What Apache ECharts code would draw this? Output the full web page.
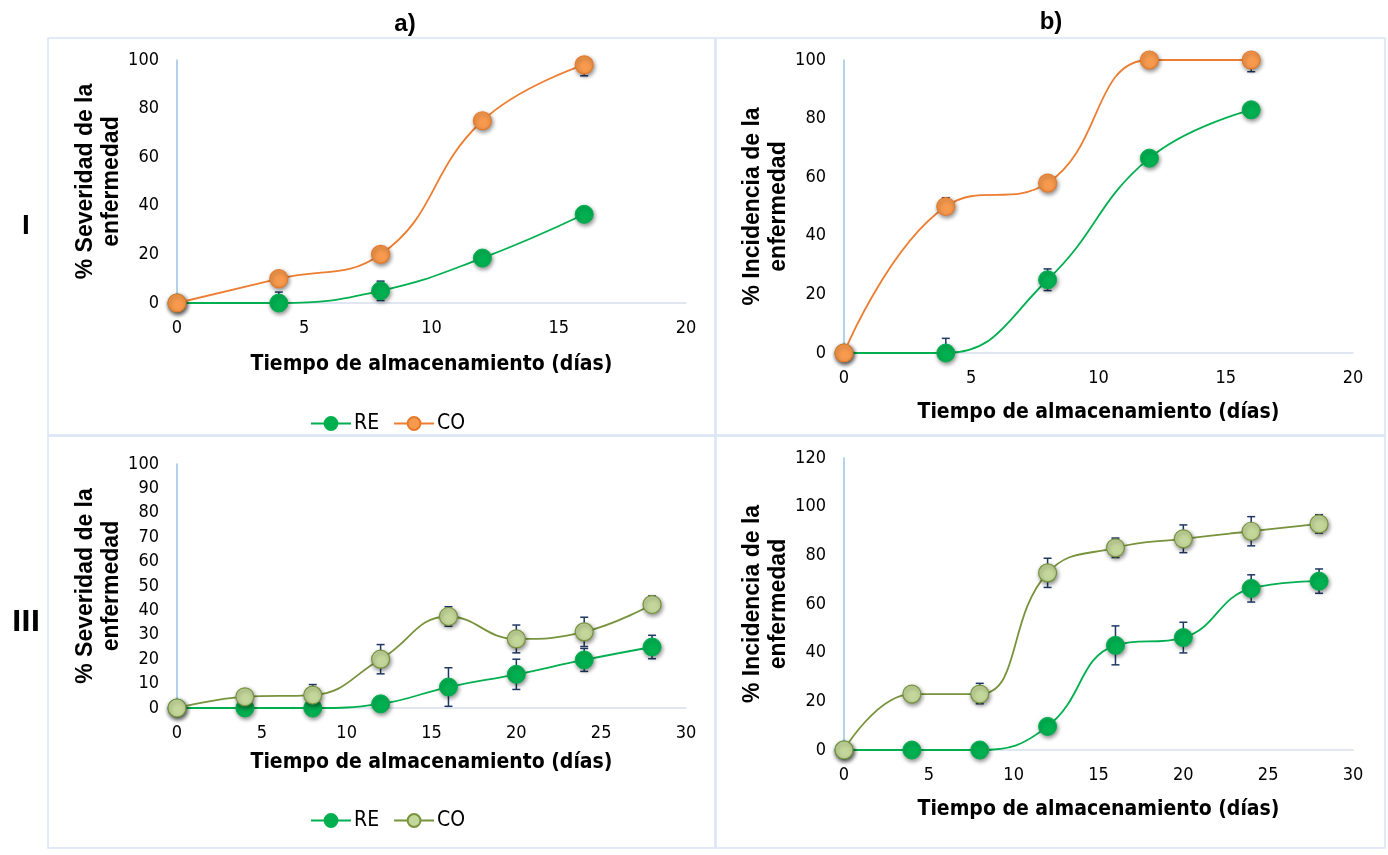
<!DOCTYPE html>
<html>
<head>
<meta charset="utf-8">
<script src="https://cdn.jsdelivr.net/npm/echarts@6/dist/echarts.min.js"></script>
<style>
  html, body { margin: 0; padding: 0; background: #fff; }
  #chart { width: 1388px; height: 855px; }
</style>
</head>
<body>
<div id="chart"></div>
<script>
// storage days
const daysI = [0, 4, 8, 12, 16];
const daysII = [0, 4, 8, 12, 16, 20, 24, 28];

// a) severity, trial I
const sevRE_I = [0, 0, 5, 18.5, 36.5];
const sevRE_I_up = [0, 4.5, 4, 0, 0];
const sevRE_I_dn = [0, 0, 4, 0, 0];
const sevCO_I = [0, 10, 20, 75, 98];
const sevCO_I_up = [0, 0, 0, 0, 0];
const sevCO_I_dn = [0, 0, 0, 0, 4.5];

// b) incidence, trial I
const incRE_I = [0, 0, 25, 66.5, 83];
const incRE_I_up = [0, 5, 3.7, 0, 0];
const incRE_I_dn = [0, 0, 3.7, 0, 0];
const incCO_I = [0, 50, 58, 100, 100];
const incCO_I_up = [0, 3, 0, 0, 0];
const incCO_I_dn = [0, 0, 0, 0, 4];

// a) severity, trial II
const sevRE_II = [0, 0, 0, 1.7, 8.6, 13.8, 19.7, 25];
const sevRE_II_up = [0, 0, 0, 0, 7.9, 6.2, 4.7, 4.8];
const sevRE_II_dn = [0, 0, 0, 0, 7.9, 6.2, 4.7, 4.8];
const sevCO_II = [0, 4.6, 5.3, 20, 37.5, 28.3, 31.2, 42.4];
const sevCO_II_up = [0, 0, 4.3, 6, 4, 5.7, 6, 3.5];
const sevCO_II_dn = [0, 0, 0, 6, 4, 5.7, 6, 0];

// b) incidence, trial II
const incRE_II = [0, 0, 0, 9.7, 43, 46.2, 66.4, 69.4];
const incRE_II_up = [0, 0, 0, 0, 8, 6.3, 5.6, 5];
const incRE_II_dn = [0, 0, 0, 0, 8, 6.3, 5.6, 5];
const incCO_II = [0, 23, 23, 72.8, 83.1, 86.8, 89.9, 92.9];
const incCO_II_up = [0, 0, 4.4, 6, 4, 5.7, 6, 3.8];
const incCO_II_dn = [0, 0, 4, 6, 4, 5.7, 6, 3.8];

const xName = "Tiempo de almacenamiento (días)";
const narrow = "'Liberation Sans Narrow', 'DejaVu Sans Condensed', Arial, sans-serif";
const bold = "'Liberation Sans', Arial, sans-serif";

const GREEN = "#00b050";
const ORANGE = { line: "#ed7d31", fill: "#f79a4e", border: "#e67a2a" };
const OLIVE = { line: "#77933c", fill: "#c4d79b", border: "#77933c" };

const panels = [
  { grid: { left: 177, top: 60, width: 509, height: 243 }, xMax: 20, yMax: 100, yInt: 20,
    yName: "% Severidad de la\nenfermedad", nameGapX: 51, days: daysI,
    re: [sevRE_I, sevRE_I_up, sevRE_I_dn], co: [sevCO_I, sevCO_I_up, sevCO_I_dn], coStyle: ORANGE, tag: "a" },
  { grid: { left: 844, top: 60, width: 509, height: 293 }, xMax: 20, yMax: 100, yInt: 20,
    yName: "% Incidencia de la\nenfermedad", nameGapX: 49, days: daysI,
    re: [incRE_I, incRE_I_up, incRE_I_dn], co: [incCO_I, incCO_I_up, incCO_I_dn], coStyle: ORANGE, tag: "b" },
  { grid: { left: 177, top: 464, width: 509, height: 244 }, xMax: 30, yMax: 100, yInt: 10,
    yName: "% Severidad de la\nenfermedad", nameGapX: 44, days: daysII,
    re: [sevRE_II, sevRE_II_up, sevRE_II_dn], co: [sevCO_II, sevCO_II_up, sevCO_II_dn], coStyle: OLIVE, tag: "c" },
  { grid: { left: 844, top: 458, width: 509, height: 292 }, xMax: 30, yMax: 120, yInt: 20,
    yName: "% Incidencia de la\nenfermedad", nameGapX: 49, days: daysII,
    re: [incRE_II, incRE_II_up, incRE_II_dn], co: [incCO_II, incCO_II_up, incCO_II_dn], coStyle: OLIVE, tag: "d" }
];

const shadow = { shadowBlur: 4, shadowColor: "rgba(0,0,0,0.45)", shadowOffsetX: 1, shadowOffsetY: 2 };

function errorBars(days, vals, up, dn, idx) {
  return {
    type: "custom",
    xAxisIndex: idx,
    yAxisIndex: idx,
    z: 1,
    silent: true,
    data: days.map((d, i) => [d, vals[i], up[i], dn[i]]),
    renderItem: (params, api) => {
      const x = api.value(0), y = api.value(1), u = api.value(2), l = api.value(3);
      if (!u && !l) return null;
      const top = api.coord([x, y + u]);
      const bot = api.coord([x, y - l]);
      const st = { stroke: "#1f3864", lineWidth: 1.5 };
      const children = [{ type: "line", shape: { x1: top[0], y1: top[1], x2: bot[0], y2: bot[1] }, style: st }];
      if (u) children.push({ type: "line", shape: { x1: top[0] - 4, y1: top[1], x2: top[0] + 4, y2: top[1] }, style: st });
      if (l) children.push({ type: "line", shape: { x1: bot[0] - 4, y1: bot[1], x2: bot[0] + 4, y2: bot[1] }, style: st });
      return { type: "group", children };
    }
  };
}

const grids = [], xAxes = [], yAxes = [], series = [];
panels.forEach((p, i) => {
  grids.push(p.grid);
  xAxes.push({
    type: "value", gridIndex: i, min: 0, max: p.xMax, interval: 5,
    name: xName, nameLocation: "middle", nameGap: p.nameGapX,
    nameTextStyle: { fontFamily: narrow, fontWeight: "bold", fontSize: 21, color: "#000" },
    axisLine: { onZero: false, lineStyle: { color: "#d6dfee", width: 1.5 } },
    axisTick: { show: false }, splitLine: { show: false },
    axisLabel: { fontFamily: narrow, fontSize: 18, color: "#000", margin: 16 }
  });
  yAxes.push({
    type: "value", gridIndex: i, min: 0, max: p.yMax, interval: p.yInt,
    name: p.yName, nameLocation: "middle", nameGap: 50, nameRotate: 90,
    nameTextStyle: { fontFamily: bold, fontWeight: "bold", fontSize: 23, color: "#000", lineHeight: 26 },
    axisLine: { show: true, lineStyle: { color: "#9dc3e6", width: 1.5 } },
    axisTick: { show: false }, splitLine: { show: false },
    axisLabel: { fontFamily: narrow, fontSize: 18, color: "#000", margin: 18 }
  });
  const tag = " " + p.tag;
  series.push(errorBars(p.days, p.re[0], p.re[1], p.re[2], i));
  series.push(errorBars(p.days, p.co[0], p.co[1], p.co[2], i));
  series.push({
    name: "RE" + tag, type: "line", xAxisIndex: i, yAxisIndex: i, smooth: 0.45, z: 3,
    data: p.days.map((d, k) => [d, p.re[0][k]]),
    symbol: "circle", symbolSize: 18,
    lineStyle: { color: GREEN, width: 1.8 },
    itemStyle: Object.assign({ color: GREEN, borderColor: GREEN, borderWidth: 1 }, shadow)
  });
  series.push({
    name: "CO" + tag, type: "line", xAxisIndex: i, yAxisIndex: i, smooth: 0.45, z: 4,
    data: p.days.map((d, k) => [d, p.co[0][k]]),
    symbol: "circle", symbolSize: 18,
    lineStyle: { color: p.coStyle.line, width: 1.8 },
    itemStyle: Object.assign({ color: p.coStyle.fill, borderColor: p.coStyle.border, borderWidth: 1.2 }, shadow)
  });
});

const legendStyle = {
  orient: "horizontal", itemWidth: 40, itemHeight: 16, itemGap: 14,
  formatter: n => n.split(" ")[0],
  textStyle: { fontFamily: narrow, fontSize: 21, color: "#000", padding: [0, 0, 0, -2] }
};

const borderStyle = { fill: "none", stroke: "#d9e4f5", lineWidth: 1.5 };

const chart = echarts.init(document.getElementById("chart"), null, { renderer: "canvas" });
chart.setOption({
  animation: false,
  backgroundColor: "#fff",
  grid: grids,
  xAxis: xAxes,
  yAxis: yAxes,
  series: series,
  legend: [
    Object.assign({ data: ["RE a", "CO a"], left: 305, top: 408 }, legendStyle),
    Object.assign({ data: ["RE c", "CO c"], left: 305, top: 805 }, legendStyle)
  ],
  title: [
    { text: "a)", left: 400, top: 7, textAlign: "center", textStyle: { fontFamily: bold, fontSize: 24, fontWeight: "bold", color: "#000" } },
    { text: "b)", left: 1046, top: 5, textAlign: "center", textStyle: { fontFamily: bold, fontSize: 24, fontWeight: "bold", color: "#000" } },
    { text: "I", left: 21, top: 207, textAlign: "center", textStyle: { fontFamily: bold, fontSize: 28, fontWeight: "bold", color: "#000" } },
    { text: "III", left: 21, top: 605, textAlign: "center", textStyle: { fontFamily: narrow, fontSize: 28, fontWeight: "bold", color: "#000", letterSpacing: -3 } }
  ],
  graphic: [
    { type: "rect", shape: { x: 48, y: 38, width: 667, height: 397 }, style: borderStyle, silent: true },
    { type: "rect", shape: { x: 716, y: 38, width: 669, height: 397 }, style: borderStyle, silent: true },
    { type: "rect", shape: { x: 48, y: 436, width: 667, height: 412 }, style: borderStyle, silent: true },
    { type: "rect", shape: { x: 716, y: 436, width: 669, height: 412 }, style: borderStyle, silent: true }
  ]
});
window.addEventListener("resize", () => chart.resize());
</script>
</body>
</html>
